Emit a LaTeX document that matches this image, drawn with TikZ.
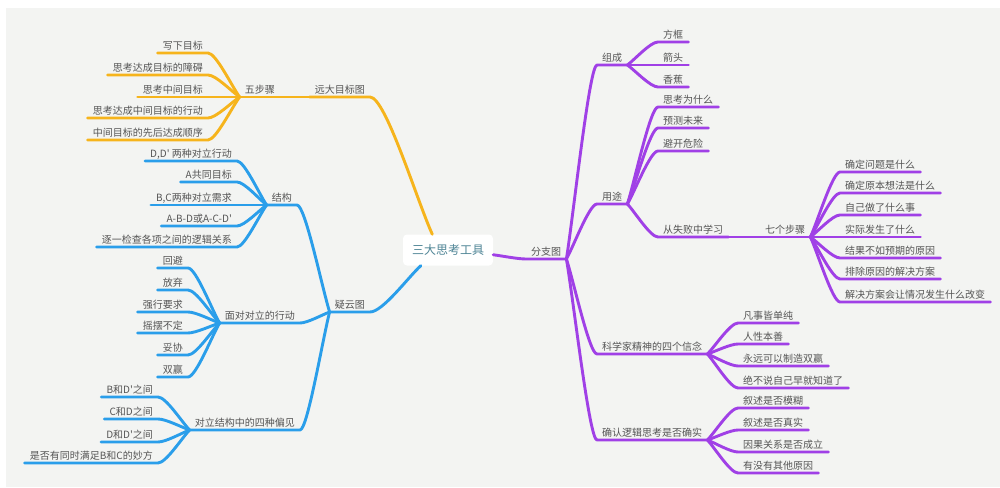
\documentclass[tikz,border=0pt]{standalone}
\usepackage{fontspec}
\setmainfont{Noto Sans CJK SC}
\newfontfamily\cjkf{Noto Sans CJK SC}
\usetikzlibrary{calc}
\definecolor{bg}{HTML}{F3F4F2}
\definecolor{txt}{HTML}{555555}
\definecolor{roottxt}{HTML}{4F8596}
\definecolor{orng}{HTML}{F6B41C}
\definecolor{blu}{HTML}{2A9EEA}
\definecolor{purp}{HTML}{A040E6}
\begin{document}
\begin{tikzpicture}[x=1pt,y=-1pt,
  br/.style={to path={let \p1=(\tikztostart), \p2=(\tikztotarget) in
     .. controls ({\x1+0.25*(\x2-\x1)},{\y1+0.25*(\y2-\y1)}) and ({\x2-0.25*(\x2-\x1)},\y2) .. (\p2) \tikztonodes}},
  lt/.style={anchor=south east, inner xsep=5pt, inner ysep=1.5pt, text height=8pt, text depth=1.5pt,
     font=\cjkf\fontsize{10}{12}\selectfont, text=txt},
  rt/.style={lt, anchor=south west},
  conn/.style={line width=2.9pt, line cap=round, line join=round},
  ol/.style={conn, draw=orng},
  bl/.style={conn, draw=blu},
  pl/.style={conn, draw=purp},
  rootbox/.style={fill=white, rounded corners=4pt, minimum width=90pt, minimum height=31pt,
     font=\cjkf\fontsize{12}{14}\selectfont, text=roottxt}
]
\fill[white] (0,0) rectangle (1000,487);
\fill[bg] (6,8) rectangle (1000,487);
\useasboundingbox (0,0) rectangle (1000,487);

\node[rootbox] (root) at (448,250) {三大思考工具};

% ---------- orange ----------
\node[lt] (o1) at (370,97) {远大目标图};
\node[lt] (o2) at (280,97) {五步骤};
\node[lt] (o21) at (208,53) {写下目标};
\node[lt] (o22) at (208,75) {思考达成目标的障碍};
\node[lt] (o23) at (208,97) {思考中间目标};
\node[lt] (o24) at (208,118) {思考达成中间目标的行动};
\node[lt] (o25) at (208,140) {中间目标的先后达成顺序};
\draw[ol] (root.135) to[br] (o1.south east) -- (o1.south west);
\draw[ol] (o1.south west) to[br] (o2.south east) -- (o2.south west);
\foreach \k in {o21,o22,o23,o24,o25}
  \draw[ol] (o2.south west) to[br] (\k.south east) -- (\k.south west);

% ---------- blue ----------
\node[lt] (b1) at (370,312) {疑云图};
\node[lt] (b2) at (297,205) {结构};
\node[lt] (b3) at (300,323) {面对对立的行动};
\node[lt] (b4) at (300,430) {对立结构中的四种偏见};
\node[lt] (b21) at (237,161) {D,D' 两种对立行动};
\node[lt] (b22) at (237,182) {A共同目标};
\node[lt] (b23) at (237,205) {B,C两种对立需求};
\node[lt] (b24) at (237,226) {A-B-D或A-C-D'};
\node[lt] (b25) at (237,247) {逐一检查各项之间的逻辑关系};
\node[lt] (b31) at (188,268) {回避};
\node[lt] (b32) at (188,290) {放弃};
\node[lt] (b33) at (188,312) {强行要求};
\node[lt] (b34) at (188,333) {摇摆不定};
\node[lt] (b35) at (188,355) {妥协};
\node[lt] (b36) at (188,377) {双赢};
\node[lt] (b41) at (158,397) {B和D'之间};
\node[lt] (b42) at (158,419) {C和D之间};
\node[lt] (b43) at (158,442) {D和D'之间};
\node[lt] (b44) at (158,463) {是否有同时满足B和C的妙方};
\draw[bl] (root.210) to[br] (b1.south east) -- (b1.south west);
\foreach \k in {b2,b3,b4}
  \draw[bl] (b1.south west) to[br] (\k.south east) -- (\k.south west);
\foreach \k in {b21,b22,b23,b24,b25}
  \draw[bl] (b2.south west) to[br] (\k.south east) -- (\k.south west);
\foreach \k in {b31,b32,b33,b34,b35,b36}
  \draw[bl] (b3.south west) to[br] (\k.south east) -- (\k.south west);
\foreach \k in {b41,b42,b43,b44}
  \draw[bl] (b4.south west) to[br] (\k.south east) -- (\k.south west);

% ---------- purple ----------
\node[rt] (p1) at (526,259) {分支图};
\node[rt] (p2) at (597,65) {组成};
\node[rt] (p3) at (597,204) {用途};
\node[rt] (p4) at (597,354) {科学家精神的四个信念};
\node[rt] (p5) at (597,440) {确认逻辑思考是否确实};
\node[rt] (p21) at (658,42) {方框};
\node[rt] (p22) at (658,65) {箭头};
\node[rt] (p23) at (658,87) {香蕉};
\node[rt] (p31) at (658,107) {思考为什么};
\node[rt] (p32) at (658,128) {预测未来};
\node[rt] (p33) at (658,151) {避开危险};
\node[rt] (p34) at (658,237) {从失败中学习};
\node[rt] (p35) at (760,237) {七个步骤};
\node[rt] (q1) at (840,172) {确定问题是什么};
\node[rt] (q2) at (840,193) {确定原本想法是什么};
\node[rt] (q3) at (840,215) {自己做了什么事};
\node[rt] (q4) at (840,237) {实际发生了什么};
\node[rt] (q5) at (840,258) {结果不如预期的原因};
\node[rt] (q6) at (840,279) {排除原因的解决方案};
\node[rt] (q7) at (840,302) {解决方案会让情况发生什么改变};
\node[rt] (p41) at (738,323) {凡事皆单纯};
\node[rt] (p42) at (738,344) {人性本善};
\node[rt] (p43) at (738,366) {永远可以制造双赢};
\node[rt] (p44) at (738,388) {绝不说自己早就知道了};
\node[rt] (p51) at (738,408) {叙述是否模糊};
\node[rt] (p52) at (738,430) {叙述是否真实};
\node[rt] (p53) at (738,452) {因果关系是否成立};
\node[rt] (p54) at (738,473) {有没有其他原因};
\draw[pl] (root.-6) to[br] (p1.south west) -- (p1.south east);
\foreach \k in {p2,p3,p4,p5}
  \draw[pl] (p1.south east) to[br] (\k.south west) -- (\k.south east);
\foreach \k in {p21,p22,p23}
  \draw[pl] (p2.south east) to[br] (\k.south west) -- (\k.south east);
\foreach \k in {p31,p32,p33,p34}
  \draw[pl] (p3.south east) to[br] (\k.south west) -- (\k.south east);
\draw[pl] (p34.south east) to[br] (p35.south west) -- (p35.south east);
\foreach \k in {q1,q2,q3,q4,q5,q6,q7}
  \draw[pl] (p35.south east) to[br] (\k.south west) -- (\k.south east);
\foreach \k in {p41,p42,p43,p44}
  \draw[pl] (p4.south east) to[br] (\k.south west) -- (\k.south east);
\foreach \k in {p51,p52,p53,p54}
  \draw[pl] (p5.south east) to[br] (\k.south west) -- (\k.south east);
\end{tikzpicture}
\end{document}
